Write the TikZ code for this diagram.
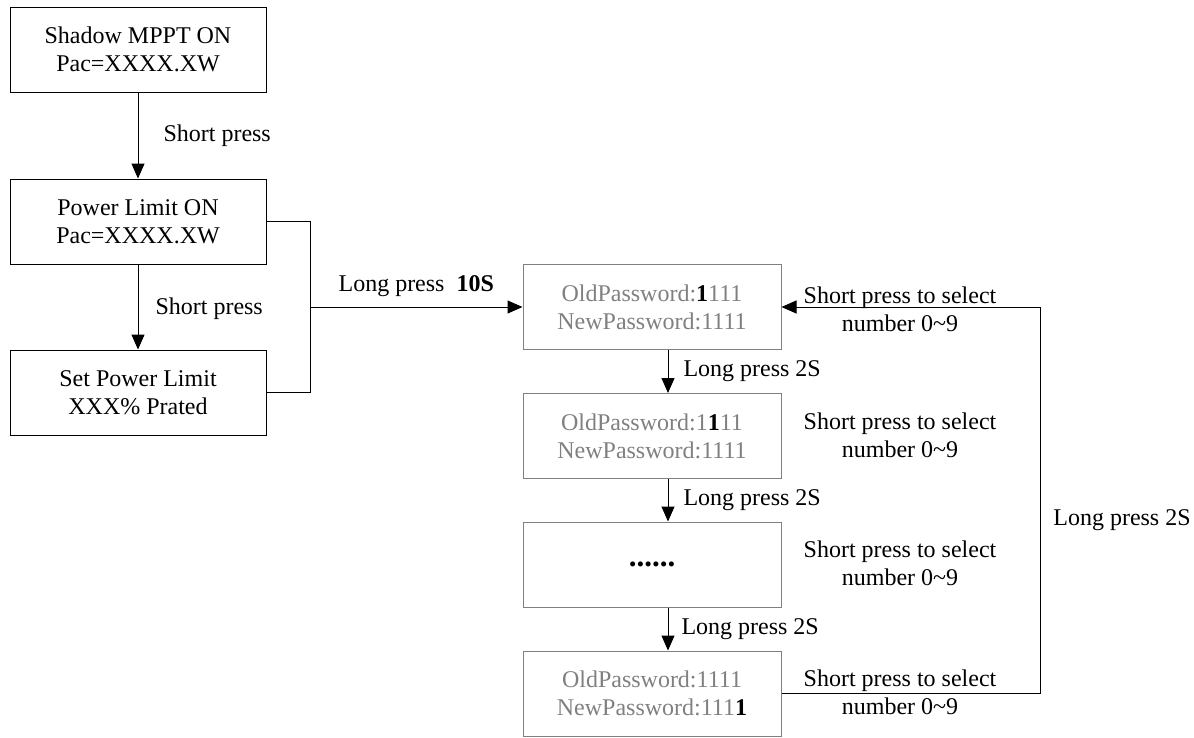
\documentclass[tikz,border=0pt]{standalone}
\usepackage{fontspec}
\setmainfont{Liberation Serif}
\usetikzlibrary{arrows.meta,positioning}
\definecolor{pwgray}{RGB}{128,128,128}
\tikzset{
  statebox/.style={draw=black, line width=1pt, minimum width=256pt, minimum height=85pt,
    align=center, inner sep=0pt},
  pwbox/.style={statebox, draw=pwgray, text=pwgray, minimum width=258pt},
  lbl/.style={inner sep=0pt, align=center},
  flow/.style={line width=1pt, -{Triangle[length=15pt,width=13pt]}},
  wire/.style={line width=1pt},
}
\newcommand{\hi}[1]{{\color{black}\textbf{#1}}}

\begin{document}
\begin{tikzpicture}[x=1pt, y=-1pt, every node/.style={font=\fontsize{24}{28}\selectfont}]
\useasboundingbox (0,0) rectangle (1194,737);
% Left column: display states
\node[statebox] (shadow) at (138,49.5)  {Shadow MPPT ON\\Pac=XXXX.XW};
\node[statebox] (limit)  at (138,221.5) {Power Limit ON\\Pac=XXXX.XW};
\node[statebox] (setlim) at (138,392.5) {Set Power Limit\\XXX\% Prated};
\draw[flow] (shadow) -- (limit) node[lbl, midway, right=25pt] (sp1) {Short press};
\draw[flow] (limit) -- (setlim) node[lbl, midway, right=17pt, yshift=-2pt] (sp2) {Short press};
% Right column: password entry
\node[pwbox] (pw1) at (652,307)   {OldPassword:\hi{1}111\\NewPassword:1111};
\node[pwbox] (pw2) at (652,436)   {OldPassword:1\hi{1}11\\NewPassword:1111};
\node[pwbox] (pw3) at (652,564.5) {\fontsize{31}{31}\selectfont\hi{......}};
\node[pwbox] (pw4) at (652,693.5) {OldPassword:1111\\NewPassword:111\hi{1}};
% Long press from the two limit screens
\coordinate (jn) at (310,307);
\draw[wire] (limit.east) -- ++(44,0) |- (setlim.east);
\draw[flow] (jn) -- (pw1.west) node[lbl, midway, above=10pt] (lp10) {Long press~~\textbf{10S}};
% Stepping through the digits
\draw[flow] ([xshift=16]pw1.south) -- ([xshift=16]pw2.north)
  node[lbl, midway, right=15pt] (lp1) {Long press 2S};
\draw[flow] ([xshift=16]pw2.south) -- ([xshift=16]pw3.north)
  node[lbl, midway, right=15pt] (lp2) {Long press 2S};
\draw[flow] ([xshift=16]pw3.south) -- ([xshift=16]pw4.north)
  node[lbl, midway, right=13pt] (lp3) {Long press 2S};
% Back to the first digit
\draw[flow] (pw4.east) -- ++(259,0) |- (pw1.east);
\node[lbl] (lpback) at (1122,520) {Long press 2S};
\node[lbl] (sel1) at (900,309)   {Short press to select\\number 0\textasciitilde9};
\node[lbl] (sel2) at (900,435)   {Short press to select\\number 0\textasciitilde9};
\node[lbl] (sel3) at (900,563)   {Short press to select\\number 0\textasciitilde9};
\node[lbl] (sel4) at (900,692)   {Short press to select\\number 0\textasciitilde9};
\end{tikzpicture}
\end{document}
